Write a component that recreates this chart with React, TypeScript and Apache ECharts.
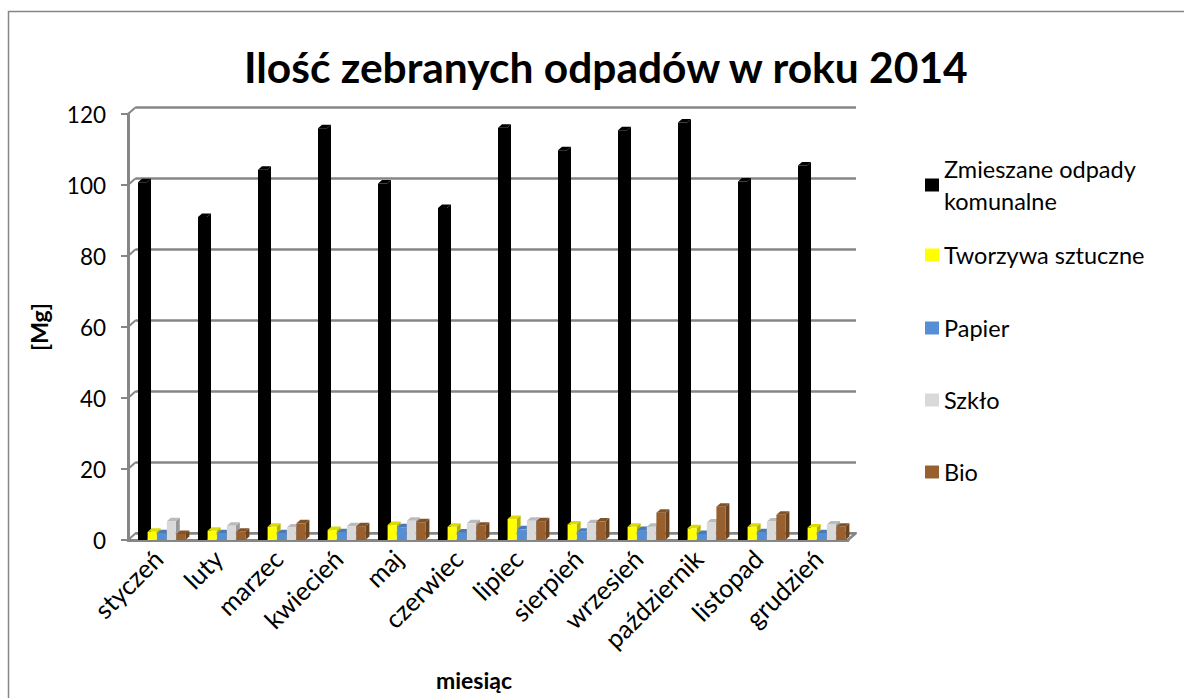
import React, { useEffect, useRef } from 'react';
import * as echarts from 'echarts';

const months = ['styczeń', 'luty', 'marzec', 'kwiecień', 'maj', 'czerwiec', 'lipiec', 'sierpień', 'wrzesień', 'październik', 'listopad', 'grudzień'];
const seriesNames = ['Zmieszane odpady komunalne', 'Tworzywa sztuczne', 'Papier', 'Szkło', 'Bio'];
const zmieszane = [100.8, 91.0, 104.3, 116.0, 100.4, 93.5, 116.1, 109.8, 115.4, 117.6, 101.0, 105.5];
const tworzywa = [2.3, 2.6, 3.7, 2.8, 4.2, 3.7, 5.9, 4.4, 3.7, 3.3, 3.7, 3.5];
const papier = [1.9, 1.9, 1.9, 2.2, 3.6, 2.1, 3.0, 2.3, 2.8, 1.7, 2.2, 1.9];
const szklo = [5.3, 4.0, 3.5, 3.9, 5.4, 4.7, 5.4, 4.7, 3.7, 4.9, 5.2, 4.4];
const bio = [1.7, 2.3, 4.7, 3.9, 5.0, 4.0, 5.3, 5.2, 7.7, 9.4, 7.1, 3.7];
const yTicks = [0, 20, 40, 60, 80, 100, 120];

const colors = ['#000000', '#FFFF00', '#558ED5', '#D9D9D9', '#98602E'];
const FONT = 'Lato, "Open Sans", sans-serif';
const GRID = { left: 128, top: 114, width: 720, height: 426 };
const DEPTH = { dx: 8, dy: -7 };
const GRAY = '#868686';
const legendCenters = [180, 250, 323, 395, 467];

function shade(hex: string, f: number) {
  const n = parseInt(hex.slice(1), 16);
  const r = Math.round(((n >> 16) & 255) * f);
  const g = Math.round(((n >> 8) & 255) * f);
  const b = Math.round((n & 255) * f);
  return `rgb(${r},${g},${b})`;
}

export default function App() {
  const ref = useRef<HTMLDivElement>(null);
  useEffect(() => {
    const chart = echarts.init(ref.current as HTMLDivElement, null, { renderer: 'svg' });
    const values = [zmieszane, tworzywa, papier, szklo, bio];
    const series = values.map((vals, s) => ({
      type: 'custom',
      name: seriesNames[s],
      xAxisIndex: 0,
      yAxisIndex: 0,
      itemStyle: { color: colors[s] },
      data: vals.map((v, k) => [k, v]),
      renderItem: (params: any, api: any) => {
        const k = api.value(0);
        const v = api.value(1);
        const base = api.coord([k, 0]);
        const top = api.coord([k, v]);
        const band = api.size([1, 0])[0];
        const left = base[0] - band / 2 + band * (10 / 60) + s * band * (9.6 / 60);
        const w = band * (9 / 60);
        const d = 4;
        const dy = 3.5;
        const c = colors[s];
        return {
          type: 'group',
          children: [
            {
              type: 'polygon',
              shape: { points: [[left + w, top[1]], [left + w + d, top[1] - dy], [left + w + d, base[1] - dy], [left + w, base[1]]] },
              style: { fill: shade(c, 0.7) },
            },
            {
              type: 'polygon',
              shape: { points: [[left, top[1]], [left + d, top[1] - dy], [left + w + d, top[1] - dy], [left + w, top[1]]] },
              style: { fill: shade(c, 0.86) },
            },
            {
              type: 'rect',
              shape: { x: left, y: top[1], width: w, height: base[1] - top[1] },
              style: { fill: c },
            },
          ],
        };
      },
    }));

    const legends = seriesNames.map((name, i) => {
      const first = i === 0;
      return {
        show: true,
        left: 920,
        top: first ? legendCenters[i] - 48 : legendCenters[i] - 12,
        orient: 'vertical',
        icon: 'rect',
        itemWidth: 14,
        itemHeight: 13,
        selectedMode: false,
        data: [name],
        formatter: first ? () => 'Zmieszane odpady\nkomunalne' : undefined,
        textStyle: first
          ? { fontFamily: FONT, fontSize: 23.5, color: '#000', lineHeight: 32, padding: [32, 0, 0, 0] }
          : { fontFamily: FONT, fontSize: 23.5, color: '#000', lineHeight: 24 },
      };
    });

    chart.setOption({
      animation: false,
      backgroundColor: '#ffffff',
      title: {
        text: 'Ilość zebranych odpadów w roku 2014',
        left: 244,
        top: 45,
        padding: 0,
        textStyle: { fontFamily: FONT, fontSize: 42.5, fontWeight: 'bold', color: '#000' },
      },
      legend: legends,
      grid: [
        { left: GRID.left, top: GRID.top, width: GRID.width, height: GRID.height },
        { left: GRID.left + DEPTH.dx, top: GRID.top + DEPTH.dy, width: GRID.width, height: GRID.height },
      ],
      xAxis: [
        {
          type: 'category',
          gridIndex: 0,
          data: months,
          axisLine: { lineStyle: { color: GRAY, width: 3 } },
          axisTick: { show: false },
          axisLabel: { rotate: 45, margin: 14, fontFamily: FONT, fontSize: 25.5, color: '#000', interval: 0 },
          name: 'miesiąc',
          nameLocation: 'middle',
          nameGap: 128,
          nameTextStyle: { fontFamily: FONT, fontSize: 23, fontWeight: 'bold', color: '#000', padding: [0, 28, 0, 0] },
        },
        {
          type: 'category',
          gridIndex: 1,
          data: months,
          axisLine: { lineStyle: { color: GRAY, width: 2 } },
          axisTick: { show: false },
          axisLabel: { show: false },
        },
      ],
      yAxis: [
        {
          type: 'value',
          gridIndex: 0,
          min: 0,
          max: 120,
          interval: 20,
          axisLine: { show: true, lineStyle: { color: GRAY, width: 3 } },
          axisTick: { show: true, length: 7, lineStyle: { color: GRAY, width: 2 } },
          axisLabel: { margin: 22, fontFamily: FONT, fontSize: 22.5, color: '#000' },
          splitLine: { show: false },
          name: '[Mg]',
          nameLocation: 'middle',
          nameGap: 78,
          nameRotate: 90,
          nameTextStyle: { fontFamily: FONT, fontSize: 23, fontWeight: 'bold', color: '#000' },
        },
        {
          type: 'value',
          gridIndex: 1,
          min: 0,
          max: 120,
          interval: 20,
          axisLine: { show: false },
          axisTick: { show: false },
          axisLabel: { show: false },
          splitLine: { show: true, lineStyle: { color: GRAY, width: 2.5 } },
        },
      ],
      series,
    });

    const diag: any[] = yTicks.map((t) => {
      const y = chart.convertToPixel({ yAxisIndex: 0 }, t) as number;
      return {
        type: 'line',
        shape: { x1: GRID.left, y1: y, x2: GRID.left + DEPTH.dx, y2: y + DEPTH.dy },
        style: { stroke: GRAY, lineWidth: 2 },
        z: 1,
      };
    });
    const y0 = chart.convertToPixel({ yAxisIndex: 0 }, 0) as number;
    diag.push({
      type: 'line',
      shape: { x1: GRID.left + GRID.width, y1: y0, x2: GRID.left + GRID.width + DEPTH.dx, y2: y0 + DEPTH.dy },
      style: { stroke: GRAY, lineWidth: 2.5 },
      z: 1,
    });
    diag.push({
      type: 'rect',
      shape: { x: 8.5, y: 11.5, width: 1200, height: 720 },
      style: { fill: 'none', stroke: GRAY, lineWidth: 1.5 },
      z: 0,
    });
    chart.setOption({ graphic: diag });

    return () => chart.dispose();
  }, []);
  return <div ref={ref} style={{ position: 'fixed', left: 0, top: 0, width: 1184, height: 698 }} />;
}
